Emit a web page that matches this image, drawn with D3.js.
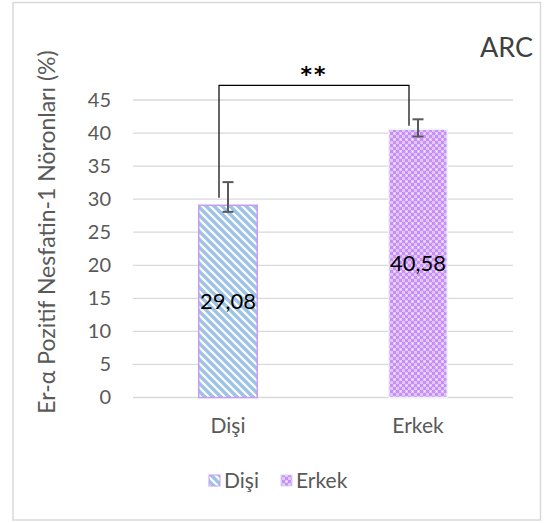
<!DOCTYPE html>
<html><head><meta charset="utf-8">
<script src="https://cdn.jsdelivr.net/npm/d3@7"></script>
<style>body{margin:0;background:#fff}svg{display:block}</style>
</head><body>
<script>
const categories = ["Dişi", "Erkek"];
const values = [29.08, 40.58];
const errPlus = [3.5, 1.5];
const errMinus = [1.0, 1.1];
const valueLabels = ["29,08", "40,58"];
const yTicks = [0, 5, 10, 15, 20, 25, 30, 35, 40, 45];
const bracketTops = [47.2, 47.2];
const bracketBottoms = [30.2, 41.1];

const W = 548, H = 523;
const svg = d3.select("body").append("svg").attr("width", W).attr("height", H);
const font = "Lato, 'Open Sans', sans-serif";

const defs = svg.append("defs");
const p1 = defs.append("pattern").attr("id", "stripes").attr("patternUnits", "userSpaceOnUse")
  .attr("width", 8).attr("height", 8);
p1.append("rect").attr("width", 8).attr("height", 8).attr("fill", "#fff");
p1.append("path").attr("d", "M-2,-2 L10,10 M-6,2 L2,10 M6,-2 L14,6")
  .attr("stroke", "#9DC3E6").attr("stroke-width", 3.4);
const p2 = defs.append("pattern").attr("id", "checks").attr("patternUnits", "userSpaceOnUse")
  .attr("width", 6).attr("height", 6);
p2.append("rect").attr("width", 6).attr("height", 6).attr("fill", "#E2C6FB");
p2.append("rect").attr("x", 0).attr("y", 0).attr("width", 3).attr("height", 3).attr("fill", "#C890F7");
p2.append("rect").attr("x", 3).attr("y", 3).attr("width", 3).attr("height", 3).attr("fill", "#C890F7");
p2.append("rect").attr("x", 4).attr("y", 1).attr("width", 1).attr("height", 1).attr("fill", "#fff");
const fills = ["url(#stripes)", "url(#checks)"];
const strokes = ["#C99AF5", "#EEF3FB"];

// outer border
svg.append("rect").attr("x", 13).attr("y", 2.5).attr("width", 527.5).attr("height", 517.5)
  .attr("fill", "none").attr("stroke", "#d9d9d9").attr("stroke-width", 1.5);

const x = d3.scaleBand().domain(categories).range([133, 513]).paddingInner(0.684).paddingOuter(0.342);
const y = d3.scaleLinear().domain([0, 45]).range([397.5, 100]);

// gridlines
svg.append("g").selectAll("line").data(yTicks).join("line")
  .attr("x1", 133).attr("x2", 513).attr("y1", d => y(d)).attr("y2", d => y(d))
  .attr("stroke", "#d9d9d9").attr("stroke-width", 1.3);

// y axis tick labels
const yAxis = d3.axisLeft(y).tickValues(yTicks).tickSize(0).tickPadding(0);
const gy = svg.append("g").attr("transform", "translate(111,0)").call(yAxis);
gy.select(".domain").remove();
gy.selectAll("text").attr("font-family", font).attr("font-size", 20).attr("fill", "#595959");

// x axis labels
const xAxis = d3.axisBottom(x).tickSize(0).tickPadding(0);
const gx = svg.append("g").attr("transform", "translate(0,418)").call(xAxis);
gx.select(".domain").remove();
gx.selectAll("text").attr("font-family", font).attr("font-size", 21).attr("fill", "#595959");

// bars
svg.append("g").selectAll("rect").data(values).join("rect")
  .attr("x", (d, i) => x(categories[i]) + 0.75).attr("y", d => y(d))
  .attr("width", x.bandwidth() - 1.5).attr("height", d => y(0) - y(d))
  .attr("fill", (d, i) => fills[i]).attr("stroke", (d, i) => strokes[i]).attr("stroke-width", 1.5);

// error bars
const eb = svg.append("g").attr("stroke", "#595959").attr("stroke-width", 2);
values.forEach((v, i) => {
  const cx = x(categories[i]) + x.bandwidth() / 2;
  const t = y(v + errPlus[i]), b = y(v - errMinus[i]);
  eb.append("line").attr("x1", cx).attr("x2", cx).attr("y1", t).attr("y2", b);
  eb.append("line").attr("x1", cx - 5.5).attr("x2", cx + 5.5).attr("y1", t).attr("y2", t);
  eb.append("line").attr("x1", cx - 5.5).attr("x2", cx + 5.5).attr("y1", b).attr("y2", b);
});

// data labels
svg.append("g").selectAll("text").data(values).join("text")
  .attr("x", (d, i) => x(categories[i]) + x.bandwidth() / 2)
  .attr("y", d => (y(d) + y(0)) / 2 + 8)
  .attr("text-anchor", "middle").attr("font-family", font).attr("font-size", 22).attr("fill", "#000")
  .text((d, i) => valueLabels[i]);

// significance bracket
const bx = categories.map(c => x(c) + x.bandwidth() / 2 - 9);
const br = svg.append("g").attr("stroke", "#000").attr("stroke-width", 1.2).attr("fill", "none");
br.append("path").attr("d",
  `M${bx[0]},${y(bracketBottoms[0])} L${bx[0]},${y(bracketTops[0])} L${bx[1]},${y(bracketTops[1])} L${bx[1]},${y(bracketBottoms[1])}`);
svg.append("text").attr("x", (bx[0] + bx[1]) / 2).attr("y", 82).attr("text-anchor", "middle")
  .attr("font-family", "'DejaVu Sans', sans-serif").attr("font-weight", "bold").attr("font-size", 22)
  .attr("letter-spacing", 2).attr("fill", "#000").text("**");

// ARC
svg.append("text").attr("x", 533).attr("y", 57).attr("text-anchor", "end")
  .attr("font-family", font).attr("font-size", 27).attr("fill", "#404040").text("ARC");

// y title
svg.append("text").attr("transform", `translate(55,232) rotate(-90)`)
  .attr("text-anchor", "middle").attr("font-family", font).attr("font-size", 23).attr("fill", "#595959")
  .text("Er-α Pozitif Nesfatin-1 Nöronları (%)");

// legend
const legX = [209, 281];
const lg = svg.append("g");
categories.forEach((c, i) => {
  lg.append("rect").attr("x", legX[i]).attr("y", 475).attr("width", 11).attr("height", 11)
    .attr("fill", fills[i]).attr("stroke", strokes[i] === "#EEF3FB" ? "#d0d8f0" : strokes[i]).attr("stroke-width", 1);
  lg.append("text").attr("x", legX[i] + 15).attr("y", 488).attr("font-family", font).attr("font-size", 21)
    .attr("fill", "#595959").text(c);
});
</script>
</body></html>
